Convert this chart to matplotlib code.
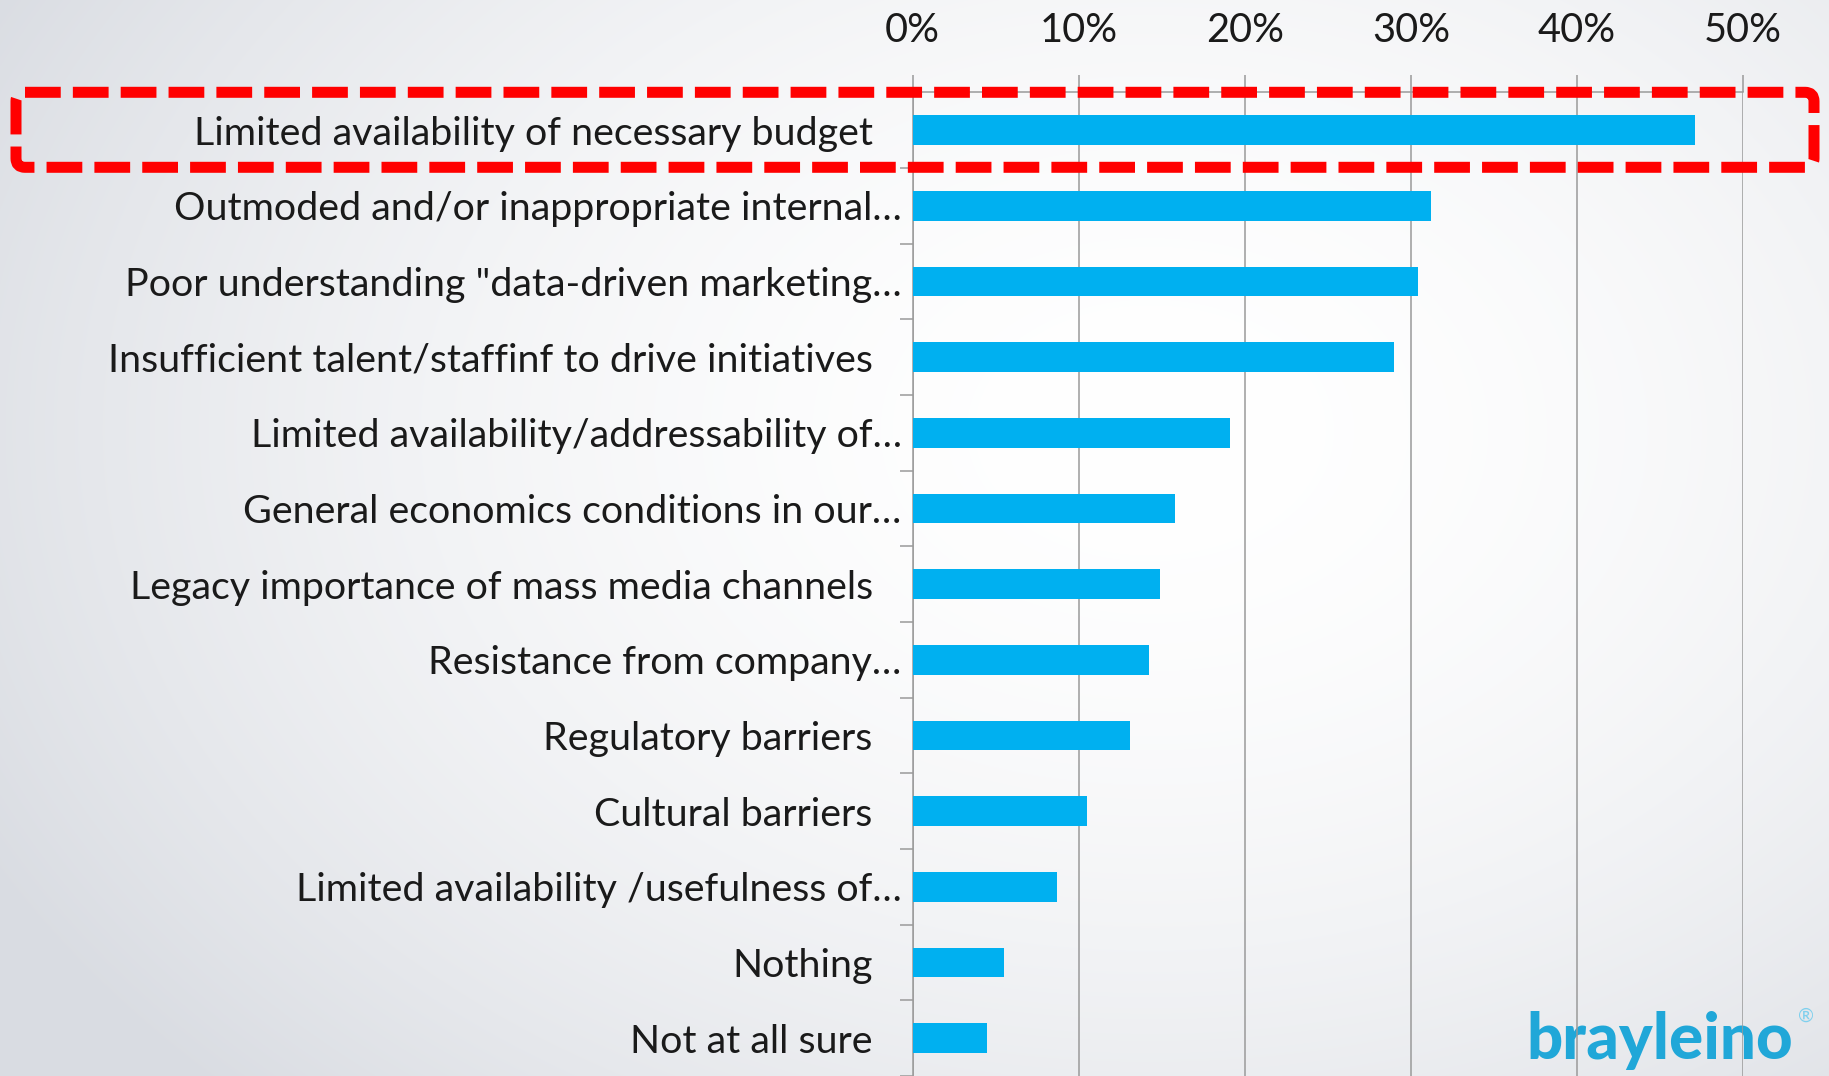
import numpy as np
import matplotlib
matplotlib.use('Agg')
import matplotlib.pyplot as plt
from matplotlib.patches import FancyBboxPatch
from matplotlib.transforms import ScaledTranslation

# ---------------- data ----------------
categories = [
    "Limited availability of necessary budget",
    "Outmoded and/or inappropriate internal\u2026",
    "Poor understanding \"data-driven marketing\u2026",
    "Insufficient talent/staffinf to drive initiatives",
    "Limited availability/addressability of\u2026",
    "General economics conditions in our\u2026",
    "Legacy importance of mass media channels",
    "Resistance from company\u2026",
    "Regulatory barriers",
    "Cultural barriers",
    "Limited availability /usefulness of\u2026",
    "Nothing",
    "Not at all sure",
]
values = [47.1, 31.2, 30.4, 29.0, 19.1, 15.8, 14.9, 14.2, 13.1, 10.5, 8.7, 5.5, 4.5]
x_ticks = [0, 10, 20, 30, 40, 50]
x_tick_labels = ["0%", "10%", "20%", "30%", "40%", "50%"]
highlight_index = 0
logo_text = "brayleino"

# ---------------- figure ----------------
W, H = 1829, 1076
DPI = 100
fig = plt.figure(figsize=(W / DPI, H / DPI), dpi=DPI)
FONT = ['Lato', 'DejaVu Sans']
TEXT_COLOR = '#1a1a1a'
GRID_COLOR = '#9a9a9a'
BAR_COLOR = '#00b0f0'

# background gradient
bg = fig.add_axes([0, 0, 1, 1], zorder=0)
yy, xx = np.mgrid[0:H, 0:W]
d = np.sqrt(((xx - 1150) / 1150.0) ** 2 + ((yy - 430) / 820.0) ** 2)
t = np.clip(d / 1.15, 0, 1) ** 1.8
c0 = np.array([1.0, 1.0, 1.0])
c1 = np.array([0xd9, 0xdc, 0xe2]) / 255.0
img = c0 * (1 - t[..., None]) + c1 * t[..., None]
bg.imshow(img, extent=[0, W, H, 0], aspect='auto', interpolation='bilinear')
bg.set_xlim(0, W)
bg.set_ylim(H, 0)
bg.axis('off')

renderer = fig.canvas.get_renderer()


def fit_size(text, target_px, family, weight='normal', base=30):
    tmp = fig.text(0, 0, text, fontsize=base, family=family, weight=weight)
    w = tmp.get_window_extent(renderer).width
    tmp.remove()
    return base * target_px / w


label_fs = fit_size(categories[0], 680, FONT)
tick_fs = fit_size("10%", 78, FONT)
logo_fs = fit_size(logo_text, 266, ['Lato', 'DejaVu Sans'], weight='black')

# logo (under the gridlines)
bg.text(1526, 1059, logo_text, fontsize=logo_fs, family=['Lato', 'DejaVu Sans'],
        weight='black', color='#20a7d8', ha='left', va='baseline')
bg.text(1798, 1016, "\u00ae", fontsize=logo_fs * 0.3, family=['Lato', 'DejaVu Sans'],
        color='#7fd0ee', ha='left', va='center')

# ---------------- main axes ----------------
left_px, right_px, top_px, bottom_px = 912.7, 1743.0, 92.3, 1076.0
ax = fig.add_axes([left_px / W, (H - bottom_px) / H,
                   (right_px - left_px) / W, (bottom_px - top_px) / H], zorder=1)
ax.set_facecolor('none')

y = np.arange(len(categories))
ax.barh(y, values, height=0.39, color=BAR_COLOR, zorder=3)
ax.set_xlim(0, 50)
ax.set_ylim(len(categories) - 0.5, -0.5)

ax.xaxis.tick_top()
ax.set_xticks(x_ticks)
ax.set_xticklabels(x_tick_labels, fontsize=tick_fs, family=FONT, color=TEXT_COLOR)
ax.tick_params(axis='x', which='major', length=17 * 0.72, width=1.1, color=GRID_COLOR,
               pad=26 * 0.72, direction='out')
ax.grid(axis='x', color=GRID_COLOR, linewidth=1.1, zorder=1)
ax.set_axisbelow(True)

ax.set_yticks(y)
ax.set_yticklabels(categories, fontsize=label_fs, family=FONT, color=TEXT_COLOR)
ax.set_yticks(np.arange(-0.5, len(categories), 1.0), minor=True)
ax.tick_params(axis='y', which='major', length=0, pad=0)
ax.tick_params(axis='y', which='minor', length=13 * 0.72, width=1.1, color=GRID_COLOR,
               direction='out')
for lab, txt in zip(ax.get_yticklabels(), categories):
    gap = 11 if txt.endswith("\u2026") else 40
    lab.set_transform(lab.get_transform() + ScaledTranslation(-gap / DPI, 0, fig.dpi_scale_trans))

for side in ['right', 'bottom']:
    ax.spines[side].set_visible(False)
for side in ['left', 'top']:
    ax.spines[side].set_color(GRID_COLOR)
    ax.spines[side].set_linewidth(1.1)

# ---------------- highlight box ----------------
ov = fig.add_axes([0, 0, 1, 1], zorder=5)
ov.set_facecolor('none')
ov.set_xlim(0, W)
ov.set_ylim(H, 0)
ov.axis('off')
row_top = top_px + highlight_index * (bottom_px - top_px) / len(categories)
box = FancyBboxPatch((16, row_top), 1814 - 16, 75, boxstyle='round,pad=0,rounding_size=9',
                     fill=False, edgecolor='#ff0000', linewidth=11 * 0.72,
                     linestyle=(0, (3.25, 1.1)), capstyle='butt', joinstyle='round')
ov.add_patch(box)

fig.savefig('out.png', dpi=DPI)
